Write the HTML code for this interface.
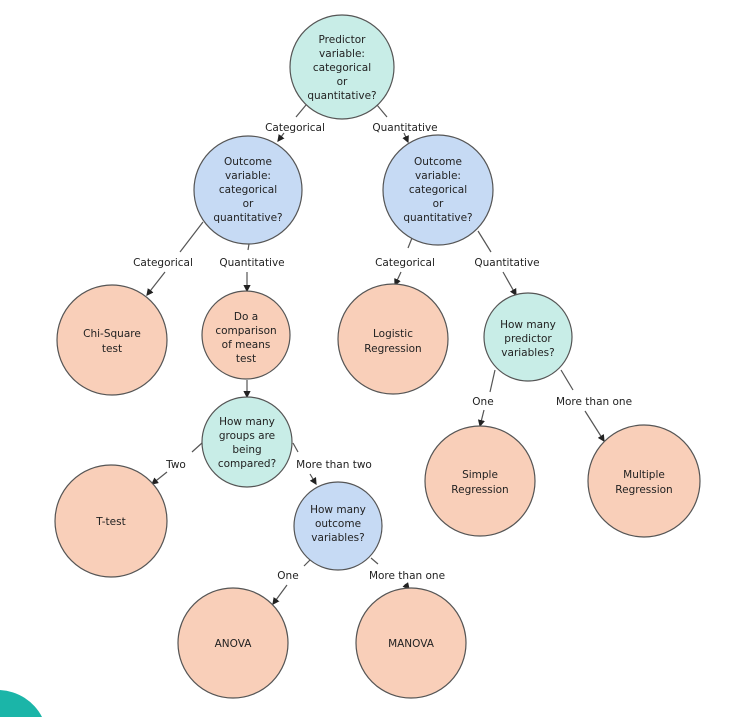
<!DOCTYPE html>
<html><head><style>
html,body{margin:0;padding:0;background:#fff;width:730px;height:717px;overflow:hidden;}
svg{display:block;}
svg text{font-family:"DejaVu Sans","Liberation Sans",sans-serif;font-size:10.5px;fill:#222;text-anchor:middle;}
</style></head><body>
<svg width="730" height="717" viewBox="0 0 730 717" xmlns="http://www.w3.org/2000/svg">
<defs><marker id="a" markerWidth="6" markerHeight="6" refX="5" refY="3" orient="auto"><path d="M0,0 L6,3 L0,6 z" fill="#222"/></marker></defs>
<path d="M0,690 A50,50 0 0 1 42,717 L0,717 Z" fill="#1bb5a8"/>
<g stroke="#555" stroke-width="1.2" fill="none">
<line x1="306" y1="105" x2="296" y2="117"/><line x1="284" y1="133" x2="278" y2="141" marker-end="url(#a)"/>
<line x1="377" y1="105" x2="387" y2="117"/><line x1="404" y1="133" x2="408" y2="142" marker-end="url(#a)"/>
<line x1="203" y1="222" x2="180" y2="252"/><line x1="165" y1="272" x2="147" y2="295" marker-end="url(#a)"/>
<line x1="249" y1="244" x2="248" y2="250"/><line x1="247" y1="272" x2="247" y2="291" marker-end="url(#a)"/>
<line x1="412" y1="238" x2="408" y2="248"/><line x1="401" y1="272" x2="395" y2="285" marker-end="url(#a)"/>
<line x1="478" y1="231" x2="491" y2="252"/><line x1="503" y1="272" x2="516" y2="295" marker-end="url(#a)"/>
<line x1="495" y1="370" x2="490" y2="392"/><line x1="484" y1="410" x2="480" y2="426" marker-end="url(#a)"/>
<line x1="561" y1="370" x2="573" y2="390"/><line x1="585" y1="411" x2="604" y2="441" marker-end="url(#a)"/>
<line x1="247" y1="380" x2="247" y2="397" marker-end="url(#a)"/>
<line x1="202" y1="443" x2="192" y2="452"/><line x1="167" y1="472" x2="152" y2="484" marker-end="url(#a)"/>
<line x1="293" y1="443" x2="298" y2="452"/><line x1="310" y1="474" x2="316" y2="484" marker-end="url(#a)"/>
<line x1="310" y1="560" x2="304" y2="566"/><line x1="287" y1="585" x2="273" y2="604" marker-end="url(#a)"/>
<line x1="371" y1="558" x2="378" y2="564"/><line x1="405" y1="584" x2="409" y2="589" marker-end="url(#a)"/>
</g>
<g stroke="#555" stroke-width="1.2">
<circle cx="342" cy="67" r="52" fill="#c8ede7"/>
<circle cx="248" cy="190" r="54" fill="#c6daf4"/>
<circle cx="438" cy="190" r="55" fill="#c6daf4"/>
<circle cx="112" cy="340" r="55" fill="#f9cfb9"/>
<circle cx="246" cy="335" r="44" fill="#f9cfb9"/>
<circle cx="393" cy="339" r="55" fill="#f9cfb9"/>
<circle cx="528" cy="337" r="44" fill="#c8ede7"/>
<circle cx="247" cy="442" r="45" fill="#c8ede7"/>
<circle cx="111" cy="521" r="56" fill="#f9cfb9"/>
<circle cx="338" cy="526" r="44" fill="#c6daf4"/>
<circle cx="480" cy="481" r="55" fill="#f9cfb9"/>
<circle cx="644" cy="481" r="56" fill="#f9cfb9"/>
<circle cx="233" cy="643" r="55" fill="#f9cfb9"/>
<circle cx="411" cy="643" r="55" fill="#f9cfb9"/>
</g>
<text x="342" y="43">Predictor</text><text x="342" y="57">variable:</text><text x="342" y="71">categorical</text><text x="342" y="85">or</text><text x="342" y="99">quantitative?</text>
<text x="295" y="131">Categorical</text><text x="405" y="131">Quantitative</text>
<g><text x="248" y="165">Outcome</text><text x="248" y="179">variable:</text><text x="248" y="193">categorical</text><text x="248" y="207">or</text><text x="248" y="221">quantitative?</text></g>
<g><text x="438" y="165">Outcome</text><text x="438" y="179">variable:</text><text x="438" y="193">categorical</text><text x="438" y="207">or</text><text x="438" y="221">quantitative?</text></g>
<text x="163" y="266">Categorical</text><text x="252" y="266">Quantitative</text>
<text x="405" y="266">Categorical</text><text x="507" y="266">Quantitative</text>
<text x="112" y="337">Chi-Square</text><text x="112" y="352">test</text>
<text x="246" y="320">Do a</text><text x="246" y="334">comparison</text><text x="246" y="348">of means</text><text x="246" y="362">test</text>
<text x="393" y="337">Logistic</text><text x="393" y="352">Regression</text>
<text x="528" y="328">How many</text><text x="528" y="342">predictor</text><text x="528" y="356">variables?</text>
<text x="483" y="405">One</text><text x="594" y="405">More than one</text>
<text x="247" y="425">How many</text><text x="247" y="439">groups are</text><text x="247" y="453">being</text><text x="247" y="467">compared?</text>
<text x="176" y="468">Two</text><text x="334" y="468">More than two</text>
<text x="111" y="525">T-test</text>
<text x="338" y="513">How many</text><text x="338" y="527">outcome</text><text x="338" y="541">variables?</text>
<text x="480" y="478">Simple</text><text x="480" y="493">Regression</text>
<text x="644" y="478">Multiple</text><text x="644" y="493">Regression</text>
<text x="288" y="579">One</text><text x="407" y="579">More than one</text>
<text x="233" y="647">ANOVA</text><text x="411" y="647">MANOVA</text>
</svg>
</body></html>
